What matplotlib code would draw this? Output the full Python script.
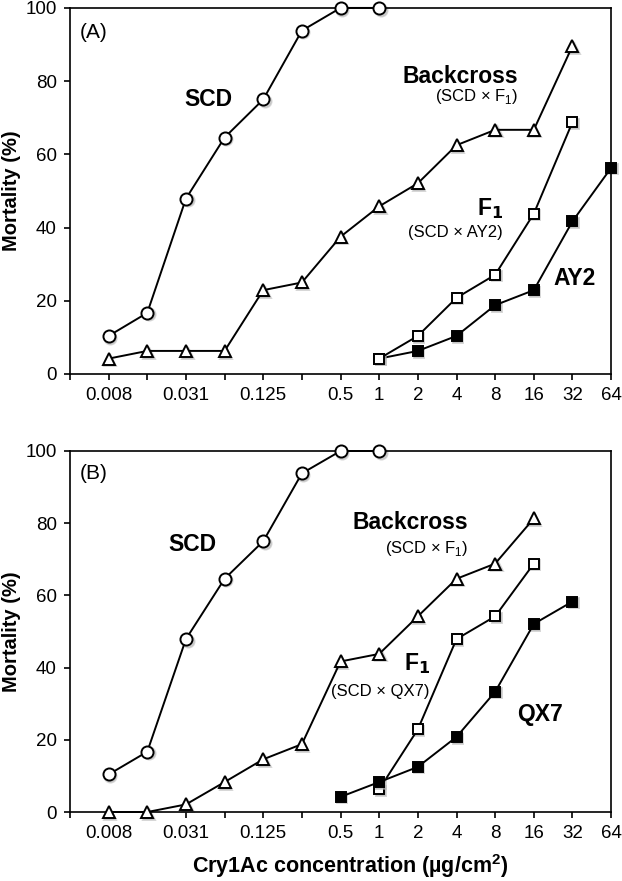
import matplotlib
matplotlib.use("Agg")
import matplotlib.pyplot as plt
from matplotlib.transforms import ScaledTranslation

plt.rcParams['font.family'] = ['Liberation Sans', 'DejaVu Sans']

# Doses (ug/cm2)
doses_scd = [0.0078125, 0.015625, 0.03125, 0.0625, 0.125, 0.25, 0.5, 1]
doses_bc_a = [0.0078125, 0.015625, 0.03125, 0.0625, 0.125, 0.25, 0.5, 1, 2, 4, 8, 16, 32]
doses_f1_a = [1, 2, 4, 8, 16, 32]
doses_ay2 = [1, 2, 4, 8, 16, 32, 64]
doses_bc_b = [0.0078125, 0.015625, 0.03125, 0.0625, 0.125, 0.25, 0.5, 1, 2, 4, 8, 16]
doses_f1_b = [1, 2, 4, 8, 16]
doses_qx7 = [0.5, 1, 2, 4, 8, 16, 32]

# Mortality (%)
scd_a = [10.4, 16.7, 47.9, 64.6, 75.0, 93.8, 100, 100]
bc_a = [4.2, 6.3, 6.3, 6.3, 22.9, 25.0, 37.5, 45.8, 52.1, 62.5, 66.7, 66.7, 89.6]
f1_a = [4.2, 10.4, 20.8, 27.1, 43.8, 68.8]
ay2 = [4.2, 6.3, 10.4, 18.8, 22.9, 41.7, 56.3]

scd_b = [10.4, 16.7, 47.9, 64.6, 75.0, 93.8, 100, 100]
bc_b = [0, 0, 2.1, 8.3, 14.6, 18.8, 41.7, 43.8, 54.2, 64.6, 68.8, 81.3]
f1_b = [6.3, 22.9, 47.9, 54.2, 68.8]
qx7 = [4.2, 8.3, 12.5, 20.8, 33.3, 52.1, 58.3]

tick_vals = [2.0 ** k for k in range(-8, 7)]
tick_labels = ['', '0.008', '', '0.031', '', '0.125', '', '0.5',
               '1', '2', '4', '8', '16', '32', '64']
y_ticks = [0, 20, 40, 60, 80, 100]

fig = plt.figure(figsize=(6.22, 8.81), dpi=100)
axA = fig.add_axes([0.1125, 0.5755, 0.870, 0.4155])
axB = fig.add_axes([0.1125, 0.0783, 0.870, 0.4098])

lw = 1.4
mew = 1.4


def series(ax, x, y, marker, ms, fc, z):
    shadow = ax.transData + ScaledTranslation(1.6 / 100, -1.6 / 100, fig.dpi_scale_trans)
    ax.plot(x, y, ls='none', marker=marker, ms=ms, mfc='#b5b5b5', mec='#b5b5b5',
            mew=mew, alpha=0.55, zorder=z - 0.5, clip_on=False, transform=shadow)
    ax.plot(x, y, '-', color='black', lw=lw, marker=marker, ms=ms,
            mfc=fc, mec='black', mew=mew, zorder=z, clip_on=False)


# Panel A
series(axA, doses_scd, scd_a, 'o', 8.7, 'white', 3)
series(axA, doses_bc_a, bc_a, '^', 9.2, 'white', 3)
series(axA, doses_ay2, ay2, 's', 7.8, 'black', 3)
series(axA, doses_f1_a, f1_a, 's', 7.8, 'white', 4)

# Panel B
series(axB, doses_scd, scd_b, 'o', 8.7, 'white', 3)
series(axB, doses_bc_b, bc_b, '^', 9.2, 'white', 3)
series(axB, doses_f1_b, f1_b, 's', 7.8, 'white', 3)
series(axB, doses_qx7, qx7, 's', 7.8, 'black', 4)

for ax in (axA, axB):
    ax.set_xscale('log', base=2)
    ax.set_xlim(2.0 ** -8, 2.0 ** 6)
    ax.set_ylim(0, 100)
    ax.set_xticks(tick_vals)
    ax.set_xticklabels(tick_labels)
    ax.minorticks_off()
    ax.set_yticks(y_ticks)
    ax.tick_params(axis='both', direction='out', length=4.5, width=1.2,
                   labelsize=13.5, pad=5)
    for s in ax.spines.values():
        s.set_linewidth(1.2)
    ax.set_ylabel('Mortality (%)', fontsize=14.5, fontweight='bold', labelpad=3)

axB.set_xlabel('Cry1Ac concentration (µg/cm$^{\\mathregular{2}}$)', fontsize=15.5,
               fontweight='bold')
axB.xaxis.set_label_coords(0.518, -0.150)
axB.xaxis.label.set_va('center')

bold = dict(fontsize=16.5, fontweight='bold')
small = dict(fontsize=12)

# Panel A annotations
axA.text(0.018, 0.934, '(A)', transform=axA.transAxes, fontsize=15, va='center', ha='left')
axA.text(0.255, 0.749, 'SCD', transform=axA.transAxes, ha='center', va='center', **bold)
axA.text(0.828, 0.814, 'Backcross', transform=axA.transAxes, ha='right', va='center', **bold)
axA.text(0.828, 0.757, '(SCD × F$_{\\mathregular{1}}$)', transform=axA.transAxes,
         ha='right', va='center', **small)
axA.text(0.800, 0.452, 'F$_{\\mathbf{1}}$', transform=axA.transAxes, ha='right', va='center', **bold)
axA.text(0.800, 0.386, '(SCD × AY2)', transform=axA.transAxes, ha='right', va='center', **small)
axA.text(0.932, 0.262, 'AY2', transform=axA.transAxes, ha='center', va='center', **bold)

# Panel B annotations
axB.text(0.018, 0.939, '(B)', transform=axB.transAxes, fontsize=15, va='center', ha='left')
axB.text(0.226, 0.742, 'SCD', transform=axB.transAxes, ha='center', va='center', **bold)
axB.text(0.736, 0.801, 'Backcross', transform=axB.transAxes, ha='right', va='center', **bold)
axB.text(0.736, 0.731, '(SCD × F$_{\\mathregular{1}}$)', transform=axB.transAxes,
         ha='right', va='center', **small)
axB.text(0.665, 0.410, 'F$_{\\mathbf{1}}$', transform=axB.transAxes, ha='right', va='center', **bold)
axB.text(0.665, 0.333, '(SCD × QX7)', transform=axB.transAxes, ha='right', va='center', **small)
axB.text(0.869, 0.269, 'QX7', transform=axB.transAxes, ha='center', va='center', **bold)

fig.savefig('out.png', dpi=100)
